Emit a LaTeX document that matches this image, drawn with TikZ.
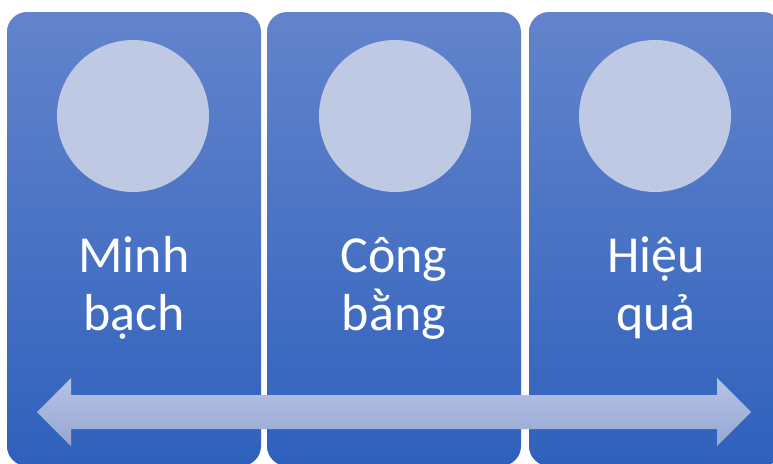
\documentclass[tikz,border=0pt]{standalone}
\usepackage{fontspec}
\setmainfont{Carlito}
\definecolor{boxtop}{HTML}{6384CC}
\definecolor{boxbot}{HTML}{2F61BC}
\definecolor{circ}{HTML}{BFC9E3}
\definecolor{arrtop}{HTML}{B7C3E5}
\definecolor{arrbot}{HTML}{97A7D1}
\tikzset{
  panel/.style={top color=boxtop, bottom color=boxbot, rounded corners=20pt},
  disc/.style={circle, fill=circ, minimum size=152pt, inner sep=0pt},
  label/.style={text=white, font=\fontsize{52}{58}\selectfont, align=center, anchor=base},
}
\begin{document}
\begin{tikzpicture}[x=1pt,y=-1pt]
\useasboundingbox (0,0) rectangle (773,463);
\clip (0,0) rectangle (773,463);
\shade[panel] (7,12) rectangle (261,466);
\shade[panel] (267,12) rectangle (521,466);
\shade[panel] (529,12) rectangle (783,466);
\node[disc] (c1) at (133,116) {};
\node[disc] (c2) at (395,116) {};
\node[disc] (c3) at (655,116) {};
\node[label] (t1) at (134,330) {Minh\\bạch};
\node[label] (t2) at (394,330) {Công\\bằng};
\node[label] (t3) at (656,330) {Hiệu\\quả};
\shade[top color=arrtop, bottom color=arrbot]
  (37,412) -- (71,378) -- (71,395) -- (717,395) -- (717,378) -- (751,412)
  -- (717,446) -- (717,429) -- (71,429) -- (71,446) -- cycle;
\end{tikzpicture}
\end{document}
